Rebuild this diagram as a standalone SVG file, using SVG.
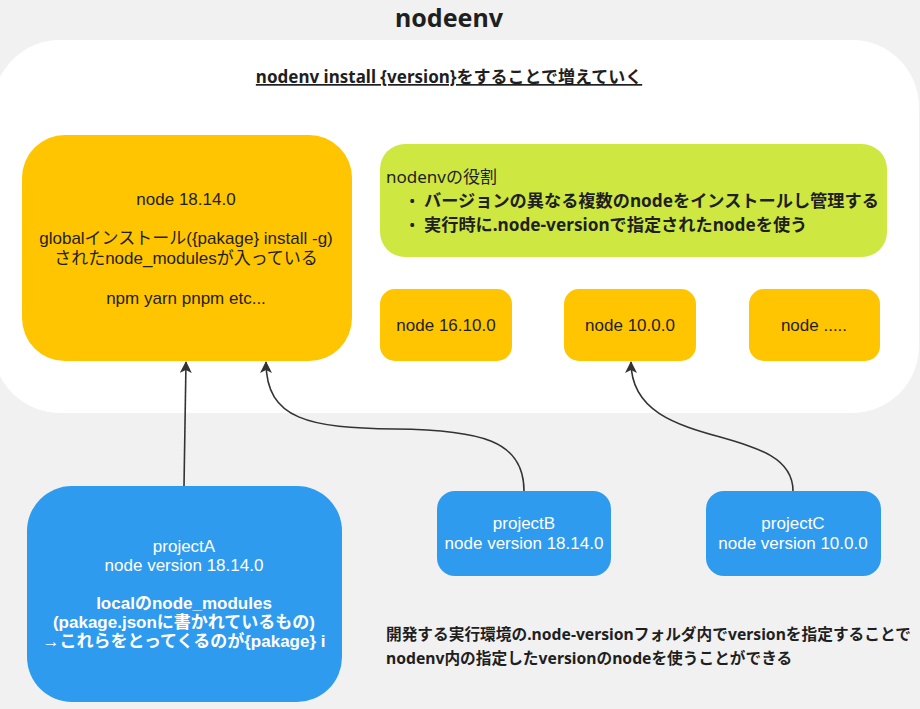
<svg xmlns="http://www.w3.org/2000/svg" width="920" height="709" viewBox="0 0 920 709">
<defs>
<style>
.jp{font-family:"Noto Sans","Noto Sans CJK JP",sans-serif;fill:#1f1f1f}
.lbl{font-family:"Liberation Sans","Noto Sans CJK JP",sans-serif;font-size:17px;fill:#1f1f1f;text-anchor:middle}
.wl{fill:#ffffff}
.b{font-weight:bold}
.yel{fill:#ffc500}
.blu{fill:#2e9bef}
.edge{fill:none;stroke:#333333;stroke-width:1.6}
</style>
<marker id="arr" markerUnits="userSpaceOnUse" markerWidth="12" markerHeight="12" viewBox="0 0 12 12" refX="11" refY="6" orient="auto">
<path d="M0,0 L12,6 L0,12 L3,6 Z" fill="#333333"/>
</marker>
</defs>
<rect x="0" y="0" width="920" height="709" fill="#f1f1f1"/>
<g id="container">
<rect x="-7" y="40" width="926" height="373" rx="67" ry="67" fill="#ffffff"/>
</g>
<g id="title">
<text class="jp b" x="449" y="27" font-size="25" text-anchor="middle">nodeenv</text>
</g>
<g id="subtitle">
<text class="jp b" x="449" y="83" font-size="17" text-anchor="middle" text-decoration="underline">nodenv install {version}をすることで増えていく</text>
</g>
<g id="node-18">
<rect class="yel" x="22" y="135" width="330" height="226" rx="43" ry="43"/>
<text class="lbl" x="186" y="205">node 18.14.0</text>
<text class="lbl" x="186" y="244">globalインストール({pakage} install -g)</text>
<text class="lbl" x="186" y="264">されたnode_modulesが入っている</text>
<text class="lbl" x="186" y="304">npm yarn pnpm etc...</text>
</g>
<g id="role">
<rect x="380" y="144" width="507" height="113" rx="25" ry="25" fill="#cee741"/>
<text class="jp" x="386" y="183" font-size="17">nodenvの役割</text>
<text class="jp" x="409" y="207" font-size="17">•</text>
<text class="jp b" x="424" y="207" font-size="17.2">バージョンの異なる複数のnodeをインストールし管理する</text>
<text class="jp" x="409" y="231" font-size="17">•</text>
<text class="jp b" x="424" y="231" font-size="17.2">実行時に.node-versionで指定されたnodeを使う</text>
</g>
<g id="node-16">
<rect class="yel" x="380" y="289" width="132" height="72" rx="15" ry="15"/>
<text class="lbl" x="446" y="331">node 16.10.0</text>
</g>
<g id="node-10">
<rect class="yel" x="564" y="289" width="132" height="72" rx="15" ry="15"/>
<text class="lbl" x="630" y="331">node 10.0.0</text>
</g>
<g id="node-etc">
<rect class="yel" x="749" y="289" width="131" height="72" rx="15" ry="15"/>
<text class="lbl" x="814" y="331">node .....</text>
</g>
<g id="projectA">
<rect class="blu" x="27" y="486" width="315" height="216" rx="45" ry="45"/>
<text class="lbl wl" x="184" y="552">projectA</text>
<text class="lbl wl" x="184" y="571">node version 18.14.0</text>
<text class="lbl wl b" x="184" y="609">localのnode_modules</text>
<text class="lbl wl b" x="184" y="628">(pakage.jsonに書かれているもの)</text>
<text class="lbl wl b" x="184" y="647">→これらをとってくるのが{pakage} i</text>
</g>
<g id="projectB">
<rect class="blu" x="437" y="491" width="174" height="85" rx="18" ry="18"/>
<text class="lbl wl" x="524" y="529">projectB</text>
<text class="lbl wl" x="524" y="549">node version 18.14.0</text>
</g>
<g id="projectC">
<rect class="blu" x="706" y="491" width="175" height="85" rx="18" ry="18"/>
<text class="lbl wl" x="793" y="529">projectC</text>
<text class="lbl wl" x="793" y="549">node version 10.0.0</text>
</g>
<g id="note">
<text class="jp b" x="386" y="640" font-size="15.7">開発する実行環境の.node-versionフォルダ内でversionを指定することで</text>
<text class="jp b" x="386" y="664" font-size="15.7">nodenv内の指定したversionのnodeを使うことができる</text>
</g>
<g id="connectors">
<path class="edge" d="M184,486 L186,362" marker-end="url(#arr)"/>
<path class="edge" d="M524,491 C524,440 480,430 395,429 C310,428 266,420 266,362" marker-end="url(#arr)"/>
<path class="edge" d="M793,491 C793,420 631,455 631,362" marker-end="url(#arr)"/>
</g>
</svg>
